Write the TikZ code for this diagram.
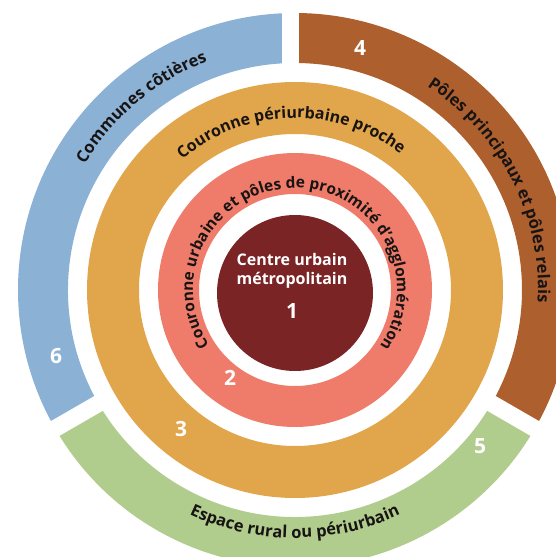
\documentclass[tikz,border=0pt]{standalone}
\usepackage{fontspec}
\setmainfont{Open Sans}
\usetikzlibrary{decorations.text}
\definecolor{cdark}{RGB}{123,36,38}
\definecolor{csalmon}{RGB}{239,124,106}
\definecolor{corange}{RGB}{225,165,75}
\definecolor{cblue}{RGB}{139,177,213}
\definecolor{cbrown}{RGB}{174,95,46}
\definecolor{cgreen}{RGB}{177,205,142}
\definecolor{ctxt}{RGB}{25,20,20}
\newcommand{\rfont}[1]{\color{ctxt}\bfseries\fontsize{#1}{#1}\selectfont}
\tikzset{
  numlabel/.style={text=white, font=\bfseries\fontsize{21}{21}\selectfont, inner sep=0pt},
  gapline/.style={white, line width=17pt},
  curved/.style={decorate, decoration={text along path, text align=center, text={#1}}}
}
\begin{document}
\begin{tikzpicture}[x=1pt,y=1pt]
\useasboundingbox (-295,-267) rectangle (261,290);
% rings
\fill[cdark] (0,-3) circle (78);
\fill[csalmon, even odd rule] (0,0) circle (137) (0,0) circle (96);
\fill[corange, even odd rule] (0,0) circle (208) (0,0) circle (156);
\fill[cblue] (90:277) arc[start angle=90, end angle=210, radius=277] -- (210:227) arc[start angle=210, end angle=90, radius=227] -- cycle;
\fill[cgreen] (210:277) arc[start angle=210, end angle=330, radius=277] -- (330:227) arc[start angle=330, end angle=210, radius=227] -- cycle;
\fill[cbrown] (330:277) arc[start angle=330, end angle=450, radius=277] -- (90:227) arc[start angle=450, end angle=330, radius=227] -- cycle;
\coordinate (g1a) at (-4,220); \coordinate (g1b) at (-4,295);
\coordinate (g2a) at (210:220); \coordinate (g2b) at (210:295);
\coordinate (g3a) at (330:220); \coordinate (g3b) at (330:295);
\draw[gapline] (g1a) -- (g1b);
\draw[gapline] (g2a) -- (g2b);
\draw[gapline] (g3a) -- (g3b);
% curved labels
\path[curved={|\rfont{16.5}|Communes côtières}] (165:245) arc[start angle=165, end angle=95, radius=245];
\path[curved={|\rfont{16.5}|Pôles principaux et pôles relais}] (80:243) arc[start angle=80, end angle=-26, radius=243];
\path[curved={|\rfont{16.5}|Espace rural ou périurbain}] (220:248) arc[start angle=220, end angle=320, radius=248];
\path[curved={|\rfont{16}|Couronne périurbaine proche}] (155:172) arc[start angle=155, end angle=28, radius=172];
\path[curved={|\rfont{15.5}|Couronne urbaine et pôles de proximité d'agglomération}] (225:102) arc[start angle=225, end angle=-46, radius=102];
% center text
\node[text=white, font=\bfseries\fontsize{16}{19.5}\selectfont, align=center, inner sep=0pt] (ctr) at (-3,19) {Centre urbain\\métropolitain};
\node[numlabel] (n1) at (-3,-21) {1};
\node[numlabel] (n2) at (-65,-88) {2};
\node[numlabel] (n3) at (-114,-139) {3};
\node[numlabel] (n4) at (65,242) {4};
\node[numlabel] (n5) at (185,-156) {5};
\node[numlabel] (n6) at (-239,-66) {6};
\end{tikzpicture}
\end{document}
